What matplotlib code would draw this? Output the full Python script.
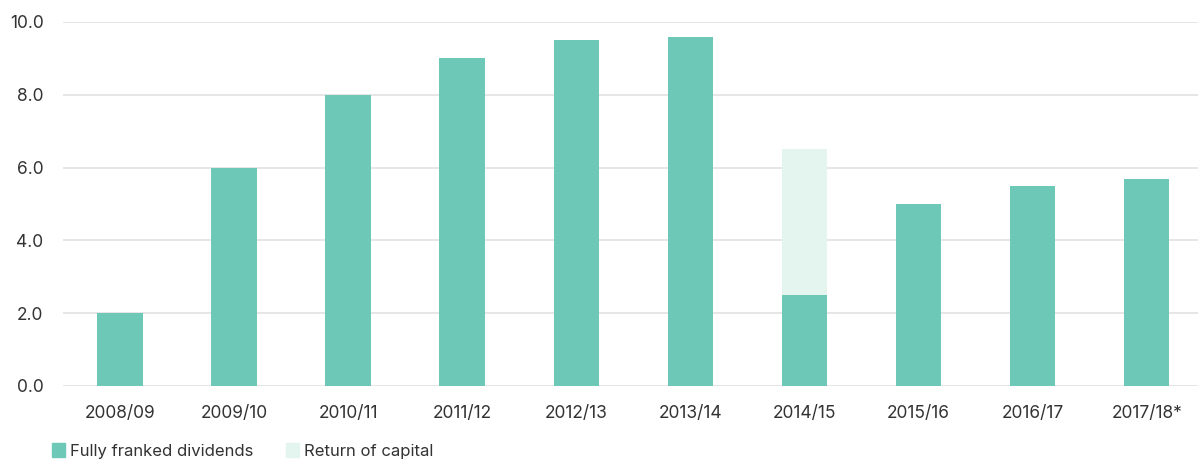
import matplotlib.pyplot as plt
from matplotlib.patches import Patch

years = ["2008/09", "2009/10", "2010/11", "2011/12", "2012/13",
         "2013/14", "2014/15", "2015/16", "2016/17", "2017/18*"]
franked = [2.0, 6.0, 8.0, 9.0, 9.5, 9.6, 2.5, 5.0, 5.5, 5.7]
capital = [0, 0, 0, 0, 0, 0, 4.0, 0, 0, 0]

dark = "#6DC8B8"
light = "#E4F4EF"

plt.rcParams['font.family'] = ['Inter', 'DejaVu Sans']

fig = plt.figure(figsize=(11.98, 4.59), dpi=100)
ax = fig.add_axes([63 / 1198, 1 - 386 / 459, (1198 - 63) / 1198, (386 - 22) / 459])

x = range(len(years))
ax.bar(x, franked, width=0.4, color=dark, zorder=3)
ax.bar(x, capital, width=0.4, bottom=franked, color=light, zorder=3)

ax.set_ylim(0, 10)
ax.set_xlim(-0.5, 9.45)
ax.set_yticks([0, 2, 4, 6, 8, 10])
ax.set_yticklabels([f"{v:.1f}" for v in [0, 2, 4, 6, 8, 10]])
ax.set_xticks(list(x))
ax.set_xticklabels(years)
ax.grid(axis='y', color="#E2E2E2", linewidth=1.2, zorder=0)
for s in ax.spines.values():
    s.set_visible(False)
ax.tick_params(length=0, labelsize=12.5, colors="#333333")
ax.tick_params(axis='y', pad=14)
ax.tick_params(axis='x', pad=14)

handles = [Patch(color=dark, label="Fully franked dividends"),
           Patch(color=light, label="Return of capital")]
fig.legend(handles=handles, loc='lower left', bbox_to_anchor=(0.031, -0.033),
           ncol=2, frameon=False, fontsize=12, handlelength=0.8,
           handleheight=0.9, handletextpad=0.3, columnspacing=1.9,
           labelcolor="#333333")

fig.savefig("out.png", dpi=100)
